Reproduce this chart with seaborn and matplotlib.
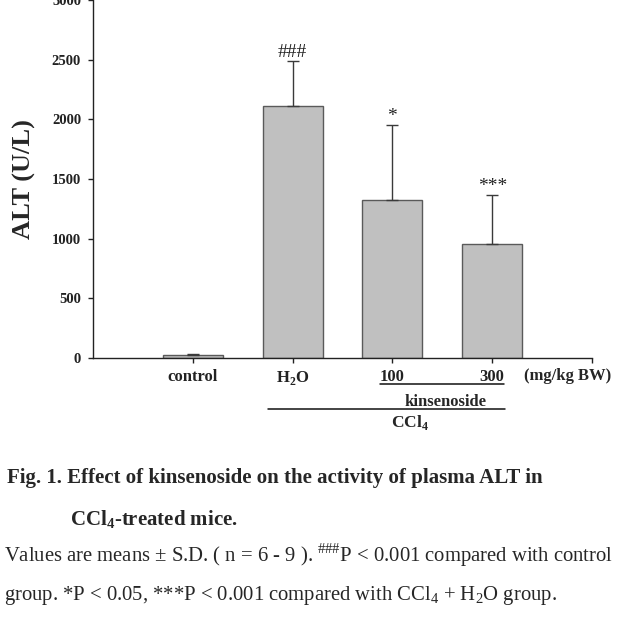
import matplotlib
matplotlib.use("Agg")
import matplotlib.pyplot as plt
import seaborn as sns
import pandas as pd
import numpy as np

groups = ["control", "H2O", "100", "300"]
tick_labels = ["control", "H$_\\mathbf{2}$O", "100", "300"]
alt_mean = [28, 2112, 1324, 958]
alt_sd = [6, 377, 629, 408]
marks = ["", "###", "*", "***"]
y_ticks = [0, 500, 1000, 1500, 2000, 2500, 3000]

sns.set_style("ticks")
plt.rcParams["font.family"] = ["Liberation Serif", "DejaVu Serif"]
plt.rcParams["mathtext.fontset"] = "custom"
plt.rcParams["mathtext.rm"] = "Liberation Serif"
plt.rcParams["mathtext.bf"] = "Liberation Serif:bold"

df = pd.DataFrame({"group": groups, "alt": alt_mean})

fig = plt.figure(figsize=(6.18, 6.30), dpi=100)
ax = fig.add_axes([93/618, 1 - 358/630, 499/618, 358/630])

sns.barplot(data=df, x="group", y="alt", order=groups, color="#c0c0c0",
            edgecolor="#5a5a5a", linewidth=1.0, width=0.6, saturation=1,
            errorbar=None, ax=ax)
x = np.arange(len(groups))
ax.errorbar(x, alt_mean, yerr=[np.zeros(len(groups)), alt_sd], fmt="none",
            ecolor="#3a3a3a", elinewidth=1.0, capsize=4, capthick=1.0)

for xi, m, s, mk in zip(x, alt_mean, alt_sd, marks):
    if mk:
        ax.annotate(mk, (xi, m + s), xytext=(0, 3), textcoords="offset points",
                    ha="center", va="baseline", fontsize=14, color="#222222")

xl = (-1.0, 4.0)
ax.set_xlim(*xl)
ax.set_ylim(0, 3000)
ax.set_yticks(y_ticks)
ax.set_yticklabels([str(v) for v in y_ticks], fontweight="bold", fontsize=10.5)
ax.set_xticks(list(x) + [xl[1]])
ax.set_xticklabels(tick_labels + [""], fontweight="bold", fontsize=12)
ax.tick_params(axis="both", direction="out", length=3.6, width=1.0, colors="#222222")
ax.tick_params(axis="y", pad=5)
ax.tick_params(axis="x", pad=4)
ax.set_xlabel("")
ax.set_ylabel("")
for sp in ["top", "right"]:
    ax.spines[sp].set_visible(False)
for sp in ["left", "bottom"]:
    ax.spines[sp].set_linewidth(1.0)
    ax.spines[sp].set_color("#222222")

def fx(px):
    return px / 618
def fy(py):
    return 1 - py / 630

fig.text(fx(24), fy(179), "ALT (U/L)", ha="center", va="center", rotation=90,
         fontsize=19, fontweight="bold")

fig.text(fx(568), fy(380), "(mg/kg BW)", ha="center", va="baseline",
         fontsize=12, fontweight="bold")
fig.add_artist(plt.Line2D([fx(380), fx(504)], [fy(383.5), fy(383.5)], color="#111111", lw=1.1))
fig.text(fx(446), fy(406), "kinsenoside", ha="center", va="baseline",
         fontsize=12, fontweight="bold")
fig.add_artist(plt.Line2D([fx(268), fx(505)], [fy(409), fy(409)], color="#111111", lw=1.1))
fig.text(fx(410), fy(427), "CCl$_\\mathbf{4}$", ha="center", va="baseline",
         fontsize=12.5, fontweight="bold")

fig.text(fx(7), fy(483), "Fig. 1. Effect of kinsenoside on the activity of plasma ALT in",
         ha="left", va="baseline", fontsize=15, fontweight="bold")
fig.text(fx(70), fy(525), "CCl$_\\mathbf{4}$-treated mice.",
         ha="left", va="baseline", fontsize=15, fontweight="bold")
fig.text(fx(4), fy(562),
         "Values are means \u00b1 S.D. ( n = 6 - 9 ). $^{\\#\\#\\#}$P < 0.001 compared with control",
         ha="left", va="baseline", fontsize=14.9)
fig.text(fx(4), fy(600),
         "group. *P < 0.05, ***P < 0.001 compared with CCl$_4$ + H$_2$O group.",
         ha="left", va="baseline", fontsize=14.9)

fig.savefig("out.png", dpi=100)
